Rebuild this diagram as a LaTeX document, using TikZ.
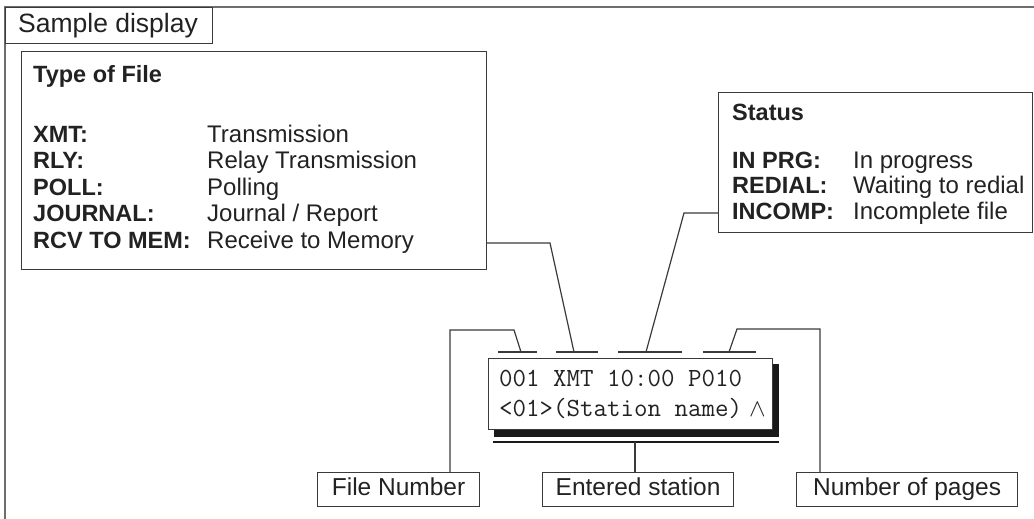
\documentclass[tikz,border=0pt]{standalone}
\usepackage{fontspec}
\setmainfont{Liberation Sans}
\definecolor{ink}{HTML}{222222}
\definecolor{linec}{HTML}{3A3A3A}
\definecolor{framec}{HTML}{6E6E6E}
\begin{document}
\begin{tikzpicture}[x=1pt,y=-1pt,
  frameline/.style={draw=framec,line width=1.7pt},
  box/.style={draw=linec,line width=1.2pt,fill=white,inner sep=0pt,anchor=north west},
  conn/.style={draw=linec,line width=1.2pt},
  lbl/.style={inner sep=0pt,anchor=base west,text=ink,font=\fontsize{24}{26}\selectfont},
  blbl/.style={inner sep=0pt,anchor=base west,text=ink,font=\fontsize{23.5}{26}\selectfont\bfseries},
  disp/.style={inner sep=0pt,anchor=base west,text=ink,font=\ttfamily\fontsize{26.2}{28}\selectfont},
  tbox/.style={draw=linec,line width=1.2pt,fill=white,inner sep=0pt,anchor=north west,
    text=ink,font=\fontsize{24.5}{26}\selectfont,text height=17pt,text depth=5pt,minimum height=34pt},
]
\useasboundingbox (0,0) rectangle (1034,519);

% outer frame
\draw[frameline] (1034,7) -- (5,7) -- (5,519);

% sample display tab
\node[box,minimum width=207pt,minimum height=36pt] (tab) at (5,7) {};
\node[lbl,font=\fontsize{26.5}{28}\selectfont] (tabtxt) at (18,33) {Sample display};

% Type of File box
\node[box,minimum width=465pt,minimum height=218pt] (typebox) at (21,51) {};
\node[blbl] (typetitle) at (33,82) {Type of File};
\node[blbl] (k1) at (33,142) {XMT:};
\node[blbl] (k2) at (33,168.5) {RLY:};
\node[blbl] (k3) at (33,195) {POLL:};
\node[blbl] (k4) at (33,221.5) {JOURNAL:};
\node[blbl] (k5) at (33,248) {RCV TO MEM:};
\node[lbl] (v1) at (207,142) {Transmission};
\node[lbl] (v2) at (207,168.5) {Relay Transmission};
\node[lbl] (v3) at (207,195) {Polling};
\node[lbl] (v4) at (207,221.5) {Journal / Report};
\node[lbl] (v5) at (207,248) {Receive to Memory};

% Status box
\node[box,minimum width=314pt,minimum height=140pt] (statusbox) at (718,92) {};
\node[blbl] (stitle) at (732,121) {Status};
\node[blbl] (sk1) at (732,168) {IN PRG:};
\node[blbl] (sk2) at (732,193.5) {REDIAL:};
\node[blbl] (sk3) at (732,219) {INCOMP:};
\node[lbl] (sv1) at (853,168) {In progress};
\node[lbl] (sv2) at (853,193.5) {Waiting to redial};
\node[lbl] (sv3) at (853,219) {Incomplete file};

% display
\fill[black!90] (494,364) rectangle (779,437);
\node[box,minimum width=284pt,minimum height=71pt] (display) at (488,358) {};
\node[disp] (row1) at (499,386) {001 XMT 10:00 P010};
\node[disp] (row2) at (499,416) {<01>(Station name)};
\node[inner sep=0pt,anchor=base west,text=ink,font=\fontsize{27}{28}\selectfont] (caret) at (749,416) {$\wedge$};
\draw[black!90,line width=1.8pt] (493,442) -- (779,442);

% field underlines
\draw[conn] (498,352) -- (537,352);
\draw[conn] (556,352) -- (598,352);
\draw[conn] (618,352) -- (682,352);
\draw[conn] (703,352) -- (756,352);

% bottom label boxes
\node[tbox,minimum width=162pt] (filenum) at (317,472) {File Number};
\node[tbox,minimum width=191pt] (entered) at (542,472) {Entered station};
\node[tbox,minimum width=221pt] (pages) at (796,472) {Number of pages};

% connectors
\coordinate (s1) at (521,352);
\coordinate (b1) at (514,330);
\coordinate (c1) at (450,330);
\draw[conn] (s1) -- (b1) -- (c1) -- (c1 |- filenum.north);

\coordinate (s2) at (574,352);
\coordinate (c2) at (550,243);
\draw[conn] (s2) -- (c2) -- (typebox.east |- c2);

\coordinate (s3) at (646,352);
\coordinate (c3) at (684,213);
\draw[conn] (s3) -- (c3) -- (statusbox.west |- c3);

\coordinate (s4) at (729,352);
\coordinate (b4) at (737,329);
\coordinate (c4) at (820,329);
\draw[conn] (s4) -- (b4) -- (c4) -- (c4 |- pages.north);

\coordinate (s5) at (635,442);
\draw[conn] (s5) -- (s5 |- entered.north);
\end{tikzpicture}
\end{document}
